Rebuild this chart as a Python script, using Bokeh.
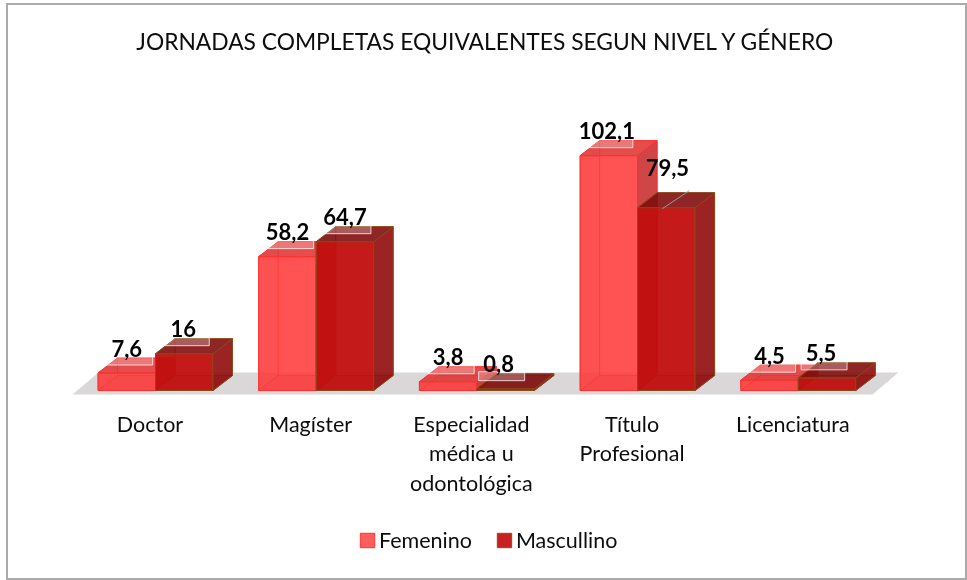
from bokeh.plotting import figure
from bokeh.models import Range1d, Legend, LegendItem
from bokeh.core.properties import value
from bokeh.embed import file_html
from bokeh.resources import INLINE

TITLE = "JORNADAS COMPLETAS EQUIVALENTES SEGUN NIVEL Y GÉNERO"
categories = ["Doctor", "Magíster", "Especialidad\nmédica u\nodontológica", "Título\nProfesional", "Licenciatura"]
femenino = [7.6, 58.2, 3.8, 102.1, 4.5]
masculino = [16, 64.7, 0.8, 79.5, 5.5]
fem_labels = ["7,6", "58,2", "3,8", "102,1", "4,5"]
masc_labels = ["16", "64,7", "0,8", "79,5", "5,5"]
series_names = ["Femenino", "Mascullino"]

FONT = "Lato"
OX, OY = 6, 3          # where the chart frame starts on the page
W, H = 961, 577
PX_X = 160.7
PX_Y = 2.30
x0 = (OX - 155) / PX_X
x1 = (OX + W - 155) / PX_X
y0 = (390 - OY - H) / PX_Y
y1 = (390 - OY) / PX_Y

def ux(px):
    return px / PX_X
def uy(px):
    return px / PX_Y

p = figure(width=W, height=H, x_range=Range1d(x0, x1), y_range=Range1d(y0, y1),
           output_backend="svg", toolbar_location=None, min_border=0,
           outline_line_color="#ABABAB", outline_line_width=3)
p.styles = {"position": "fixed", "left": f"{OX}px", "top": f"{OY}px"}
p.axis.visible = False
p.grid.visible = False

BW = ux(57.5)
DX = ux(19.5)
DY = uy(15)

# floor
n = len(categories)
p.patch([-0.516, -0.355, n - 1 + 0.623, n - 1 + 0.462],
        [uy(-4), uy(18), uy(18), uy(-4)],
        fill_color="#D9D7D7", line_color=None)

def box(cx, v, fill, front_alpha, edge, side, top):
    l, r = cx, cx + BW
    back = dict(xs=[l + DX, r + DX, r + DX, l + DX], ys=[DY, DY, v + DY, v + DY])
    left = dict(xs=[l, l + DX, l + DX, l], ys=[0, DY, v + DY, v])
    bottom = dict(xs=[l, r, r + DX, l + DX], ys=[0, 0, DY, DY])
    front = dict(xs=[l, r, r, l], ys=[0, 0, v, v])
    rside = dict(xs=[r, r + DX, r + DX, r], ys=[0, DY, v + DY, v])
    topf = dict(xs=[l, r, r + DX, l + DX], ys=[v, v, v + DY, v + DY])
    for face, col, a in [(back, fill, 0.35), (left, side, 0.35), (bottom, side, 0.45)]:
        p.patch(face["xs"], face["ys"], fill_color=col, fill_alpha=a,
                line_color=edge, line_alpha=0.6, line_width=1)
    r1 = p.patch(front["xs"], front["ys"], fill_color=fill, fill_alpha=front_alpha,
                 line_color=edge, line_width=1)
    p.patch(rside["xs"], rside["ys"], fill_color=side, fill_alpha=0.85,
            line_color=edge, line_width=1)
    p.patch(topf["xs"], topf["ys"], fill_color=top, fill_alpha=0.85,
            line_color=edge, line_width=1)
    return r1

fem_rs, mas_rs = [], []
for i, (f, m) in enumerate(zip(femenino, masculino)):
    fem_rs.append(box(i - BW, f, "#FF3A3A", 0.82, "#FF3030", "#C83030", "#E03838"))
    mas_rs.append(box(i, m, "#C20F0F", 0.93, "#8A4A1A", "#8E0A0A", "#7E0E0E"))

# data labels
nudge_x = {"0,8": -7, "5,5": -6, "79,5": 1, "16": -1, "102,1": -2}
nudge_y = {"79,5": 15}
lx, ly, lt = [], [], []
bx, by = [], []
for i in range(n):
    for cx, v, t in [(i - BW / 2, femenino[i], fem_labels[i]), (i + BW / 2, masculino[i], masc_labels[i])]:
        lx.append(cx + ux(nudge_x.get(t, 0)))
        ly.append(v + uy(25 + nudge_y.get(t, 0)))
        lt.append(t)
        if t != "79,5":
            bx.append(cx + ux(nudge_x.get(t, 0)) + ux(3))
            by.append(v + uy(12.5))
p.rect(bx, by, width=ux(46), height=uy(9), fill_color="white", fill_alpha=0.25,
       line_color="white", line_alpha=0.75, line_width=1)
# leader line of the one displaced label
i79 = masculino.index(79.5)
p.line([i79 + BW / 2 - ux(4), i79 + BW / 2 + ux(23)], [79.5 - uy(1), 79.5 + uy(17)],
       line_color="#999999", line_width=1)
p.text(lx, ly, text=lt, text_font=value(FONT), text_font_style="bold",
       text_font_size="22px", text_align="center", text_baseline="middle", text_color="#000000")

# category labels
tx, ty, tt = [], [], []
for i, c in enumerate(categories):
    for j, line in enumerate(c.split("\n")):
        tx.append(i - ux(5.5))
        ty.append(uy(-33 - 29.5 * j))
        tt.append(line)
p.text(tx, ty, text=tt, text_font=value(FONT), text_font_size="21.5px", text_align="center",
       text_baseline="middle", text_color="#0d0d0d")

# title
p.text([ux(485.5 - 155)], [uy(390 - 40)], text=[TITLE], text_font=value(FONT), text_font_size="22.8px",
       text_align="center", text_baseline="middle", text_color="#0d0d0d")

legend = Legend(items=[LegendItem(label=series_names[0], renderers=[fem_rs[0]]),
                       LegendItem(label=series_names[1], renderers=[mas_rs[0]])],
                orientation="horizontal", location=(352, 27), glyph_width=18, glyph_height=18,
                label_text_font=FONT, label_text_font_size="21.5px", label_text_color="#0d0d0d",
                background_fill_alpha=0, border_line_color=None, spacing=23,
                label_standoff=3, padding=4, margin=0)
p.add_layout(legend, "center")

open("out.html", "w").write(file_html(p, INLINE))
